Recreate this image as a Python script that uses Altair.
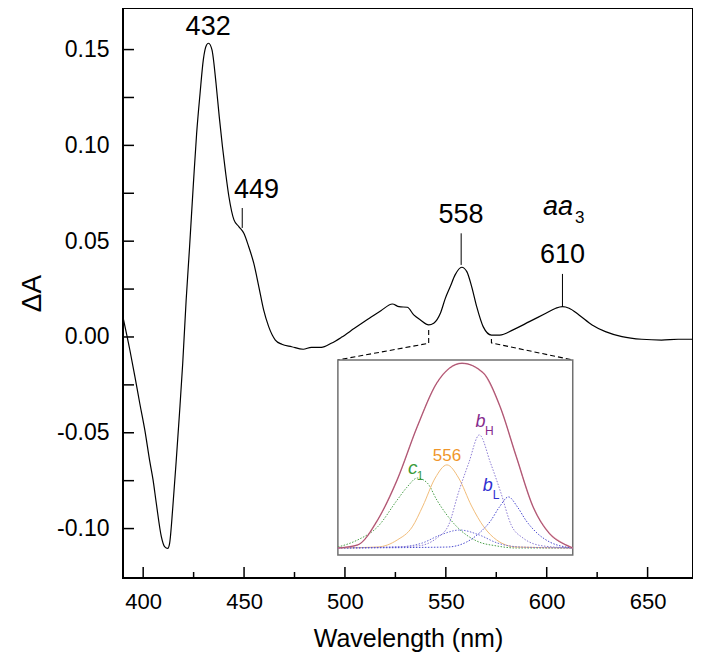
import altair as alt
import pandas as pd

# ---------------- main spectrum ----------------
wl = [390.1, 393.4, 395.9, 398.3, 400.8, 403.3, 404.9, 406.5, 409.0, 410.6, 412.2, 413.1,
      414.7, 416.4, 418.0, 419.6, 421.3, 422.9, 424.9, 426.5, 428.2, 429.8, 431.4, 432.4,
      434.1, 436.1, 437.7, 439.3, 440.9, 442.5, 445.0, 447.4, 449.9, 452.3, 454.8, 457.3,
      459.7, 462.2, 465.5, 468.7, 473.6, 479.3, 483.4, 488.3, 493.2, 498.2, 504.7, 511.3,
      517.8, 523.5, 526.8, 530.9, 534.1, 537.4, 541.5, 544.0, 547.3, 549.7, 552.2, 554.6,
      557.9, 560.4, 562.8, 565.3, 568.5, 572.6, 576.7, 583.3, 591.4, 599.6, 604.5, 607.8,
      611.1, 616.0, 622.5, 629.1, 637.3, 647.1, 656.9, 665.1, 672.5]
dA = [0.0098, -0.0068, -0.0207, -0.0346, -0.0485, -0.0651, -0.0746, -0.0868, -0.1042, -0.1094, -0.1103, -0.1077,
      -0.0886, -0.0642, -0.0398, -0.0137, 0.0193, 0.0454, 0.0802, 0.1063, 0.1272, 0.1446, 0.1524, 0.1533,
      0.1498, 0.1324, 0.1150, 0.0993, 0.0854, 0.0732, 0.0611, 0.0576, 0.0541, 0.0471, 0.0385, 0.0263,
      0.0141, 0.0054, -0.0016, -0.0038, -0.0051, -0.0064, -0.0054, -0.0054, -0.0033, -0.0002, 0.0045, 0.0092,
      0.0137, 0.0172, 0.0158, 0.0155, 0.0115, 0.0089, 0.0063, 0.0072, 0.0124, 0.0200, 0.0263, 0.0324,
      0.0364, 0.0341, 0.0263, 0.0158, 0.0054, 0.0010, 0.0010, 0.0037, 0.0080, 0.0124, 0.0150, 0.0158,
      0.0150, 0.0115, 0.0063, 0.0028, 0.0002, -0.0012, -0.0016, -0.0012, -0.0012]

x_major = [400, 450, 500, 550, 600, 650]
x_minor = [425, 475, 525, 575, 625]
y_major = [-0.10, -0.05, 0.00, 0.05, 0.10, 0.15]
y_minor = [-0.075, -0.025, 0.025, 0.075, 0.125]

# peak labels
peak_text = ["432", "449", "558", "610"]
peak_x = [432.2, 456.2, 557.5, 607.8]
peak_y = [0.1576, 0.0724, 0.0593, 0.0385]
# small marker lines at peaks
mark_x = [449.1, 557.6, 607.8]
mark_y1 = [0.0673, 0.0541, 0.0329]
mark_y2 = [0.0569, 0.0376, 0.0158]

# inset box (main data coords) and connectors
box_x = [496.5, 612.9]
box_y = [-0.012, -0.1138]
conn_id = ["a", "a", "a", "b", "b", "b"]
conn_ord = [0, 1, 2, 0, 1, 2]
conn_x = [541.5, 541.5, 496.5, 572.6, 572.6, 612.9]
conn_y = [0.0037, -0.0033, -0.012, -0.0010, -0.0031, -0.012]

# ---------------- inset curves (inset units) ----------------
tot_x = [537.0, 540.5, 544.1, 547.6, 551.2, 554.7, 559.2, 563.0, 566.0, 568.9, 571.9, 574.8, 577.8, 579.0]
tot_y = [0.0, 0.016, 0.151, 0.368, 0.656, 0.892, 0.998, 0.946, 0.764, 0.494, 0.223, 0.079, 0.016, 0.0]

c1_x = [537.0, 540.5, 544.1, 547.6, 549.4, 551.2, 553.0, 554.7, 558.3, 561.8, 565.4, 568.9, 579.0]
c1_y = [0.005, 0.043, 0.114, 0.259, 0.330, 0.378, 0.351, 0.259, 0.114, 0.038, 0.011, 0.0, 0.0]

o556_x = [537.0, 544.1, 547.6, 550.3, 552.2, 554.4, 556.5, 558.6, 560.9, 563.1, 565.4, 568.9, 579.0]
o556_y = [0.0, 0.005, 0.043, 0.114, 0.227, 0.378, 0.449, 0.378, 0.227, 0.114, 0.043, 0.005, 0.0]

bH_x = [537.0, 551.2, 554.7, 556.8, 558.6, 560.4, 562.3, 564.3, 566.1, 568.0, 570.1, 573.7, 579.0]
bH_y = [0.0, 0.011, 0.054, 0.124, 0.303, 0.459, 0.611, 0.459, 0.303, 0.124, 0.054, 0.011, 0.0]

bL_x = [537.0, 556.5, 560.0, 562.3, 564.3, 565.9, 567.5, 569.1, 570.7, 572.6, 574.9, 577.8, 579.0]
bL_y = [0.0, 0.005, 0.032, 0.081, 0.146, 0.222, 0.276, 0.222, 0.146, 0.081, 0.032, 0.005, 0.0]

sm_x = [537.0, 547.6, 552.1, 555.3, 558.8, 562.3, 565.5, 569.8, 579.0]
sm_y = [0.0, 0.005, 0.027, 0.070, 0.097, 0.070, 0.027, 0.005, 0.0]

# inset labels
il_text = ["c", "1", "556", "b", "H", "b", "L"]
il_x = [550.4, 551.7, 556.5, 562.5, 564.1, 563.8, 565.3]
il_y = [0.43, 0.39, 0.497, 0.681, 0.630, 0.335, 0.288]
il_color = ["#3a9a3a", "#3a9a3a", "#f0962a", "#852a8c", "#852a8c", "#2e2ed0", "#2e2ed0"]
il_size = [19, 12, 17, 18, 12, 18, 12]
il_style = ["italic", "normal", "normal", "italic", "normal", "italic", "normal"]

# ---------------- layout ----------------
W, H = 570, 570
X_DOMAIN = [390, 672.5]
Y_DOMAIN = [-0.1258, 0.1717]
FONT = "Liberation Sans"

xs = alt.Scale(domain=X_DOMAIN, nice=False, zero=False)
ys = alt.Scale(domain=Y_DOMAIN, nice=False, zero=False)

def px_x(v):
    return (v - X_DOMAIN[0]) / (X_DOMAIN[1] - X_DOMAIN[0]) * W

def px_y(v):
    return (Y_DOMAIN[1] - v) / (Y_DOMAIN[1] - Y_DOMAIN[0]) * H

main_df = pd.DataFrame({"wl": wl, "dA": dA})

line = alt.Chart(main_df).mark_line(color="black", strokeWidth=1.2, interpolate="monotone").encode(
    x=alt.X("wl:Q", scale=xs,
            axis=alt.Axis(values=x_major, format="d", title="Wavelength (nm)", ticks=False, domain=False,
                          grid=False, labelFont=FONT, labelFontSize=22, labelColor="black",
                          labelPadding=13, titleFont=FONT, titleFontSize=25, titleFontWeight="normal",
                          titleColor="black", titlePadding=14)),
    y=alt.Y("dA:Q", scale=ys,
            axis=alt.Axis(values=y_major, title="ΔA", ticks=False, domain=False, grid=False,
                          labelExpr="(datum.value < 0 ? '-' : '') + format(abs(datum.value), '.2f')",
                          labelFont=FONT, labelFontSize=23, labelColor="black", labelPadding=14,
                          titleFont=FONT, titleFontSize=28, titleFontWeight="normal",
                          titleColor="black", titlePadding=10)),
)

xmaj = alt.Chart(pd.DataFrame({"v": x_major})).mark_rule(color="black", strokeWidth=1.5).encode(
    x=alt.X("v:Q", scale=xs), y=alt.value(H), y2=alt.value(H - 11))
xmin = alt.Chart(pd.DataFrame({"v": x_minor})).mark_rule(color="black", strokeWidth=1.5).encode(
    x=alt.X("v:Q", scale=xs), y=alt.value(H), y2=alt.value(H - 6))
ymaj = alt.Chart(pd.DataFrame({"v": y_major + y_minor})).mark_rule(color="black", strokeWidth=1.5).encode(
    y=alt.Y("v:Q", scale=ys), x=alt.value(0), x2=alt.value(11))

peaks = alt.Chart(pd.DataFrame({"t": peak_text, "x": peak_x, "y": peak_y})).mark_text(
    font=FONT, fontSize=27, color="black", align="center", baseline="alphabetic").encode(
    x=alt.X("x:Q", scale=xs), y=alt.Y("y:Q", scale=ys), text="t:N")

aa = alt.Chart(pd.DataFrame({"t": ["aa"], "x": [605.6], "y": [0.0637]})).mark_text(
    font=FONT, fontSize=27, fontStyle="italic", color="black", align="center", baseline="alphabetic").encode(
    x=alt.X("x:Q", scale=xs), y=alt.Y("y:Q", scale=ys), text="t:N")
aa3 = alt.Chart(pd.DataFrame({"t": ["3"], "x": [616.4], "y": [0.0597]})).mark_text(
    font=FONT, fontSize=17, color="black", align="center", baseline="alphabetic").encode(
    x=alt.X("x:Q", scale=xs), y=alt.Y("y:Q", scale=ys), text="t:N")

marks = alt.Chart(pd.DataFrame({"x": mark_x, "y1": mark_y1, "y2": mark_y2})).mark_rule(
    color="black", strokeWidth=1).encode(
    x=alt.X("x:Q", scale=xs), y=alt.Y("y1:Q", scale=ys), y2="y2:Q")

conn = alt.Chart(pd.DataFrame({"id": conn_id, "o": conn_ord, "x": conn_x, "y": conn_y})).mark_line(
    color="black", strokeWidth=1.1, strokeDash=[5, 3]).encode(
    x=alt.X("x:Q", scale=xs), y=alt.Y("y:Q", scale=ys), detail="id:N", order="o:Q")

box = alt.Chart(pd.DataFrame({"x": [box_x[0]], "x2": [box_x[1]], "y": [box_y[0]], "y2": [box_y[1]]})).mark_rect(
    fill="white", stroke="#707070", strokeWidth=1.5).encode(
    x=alt.X("x:Q", scale=xs), x2="x2:Q", y=alt.Y("y:Q", scale=ys), y2="y2:Q")

main_group = alt.layer(line, xmaj, xmin, ymaj, conn, box, marks, peaks, aa, aa3)

# inset scales mapped onto the box
IX_DOMAIN = [537, 579]
IY_DOMAIN = [-0.038, 1.016]
ixs = alt.Scale(domain=IX_DOMAIN, range=[px_x(box_x[0]), px_x(box_x[1])], nice=False, zero=False)
iys = alt.Scale(domain=IY_DOMAIN, range=[px_y(box_y[1]), px_y(box_y[0])], nice=False, zero=False)

def inset_curve(xv, yv, color, dash=None, width=1.0):
    kw = dict(color=color, strokeWidth=width, interpolate="monotone")
    if dash:
        kw["strokeDash"] = dash
    return alt.Chart(pd.DataFrame({"x": xv, "y": yv})).mark_line(**kw).encode(
        x=alt.X("x:Q", scale=ixs, axis=None), y=alt.Y("y:Q", scale=iys, axis=None))

dot = [1.5, 1.5]
inset_layers = [
    inset_curve(c1_x, c1_y, "#4aa04a", dot),
    inset_curve(o556_x, o556_y, "#f2bd7a", None, 1.0),
    inset_curve(sm_x, sm_y, "#6a6ad6", dot),
    inset_curve(bH_x, bH_y, "#8c7cd4", dot),
    inset_curve(bL_x, bL_y, "#4a4ad0", dot),
    inset_curve(tot_x, tot_y, "#e090a0", None, 1.5),
    inset_curve(tot_x, tot_y, "#8a3a60", None, 0.7),
]

il_df = pd.DataFrame({"t": il_text, "x": il_x, "y": il_y, "c": il_color, "s": il_size, "st": il_style})
for st in ["italic", "normal"]:
    for sz in sorted(set(il_size)):
        sub = il_df[(il_df.st == st) & (il_df.s == sz)]
        if len(sub) == 0:
            continue
        inset_layers.append(
            alt.Chart(sub).mark_text(font=FONT, fontSize=sz, fontStyle=st, align="center",
                                     baseline="middle").encode(
                x=alt.X("x:Q", scale=ixs, axis=None), y=alt.Y("y:Q", scale=iys, axis=None),
                text="t:N", color=alt.Color("c:N", scale=None)))

inset_group = alt.layer(*inset_layers)

chart = alt.layer(main_group, inset_group).resolve_scale(
    x="independent", y="independent"
).properties(
    width=W, height=H,
    autosize=alt.AutoSizeParams(type="none"),
    padding={"left": 115, "top": 0, "right": 0, "bottom": 75},
).configure_view(stroke="black", strokeWidth=2)

chart.save("out.html", embed_options={"renderer": "svg", "actions": False})
